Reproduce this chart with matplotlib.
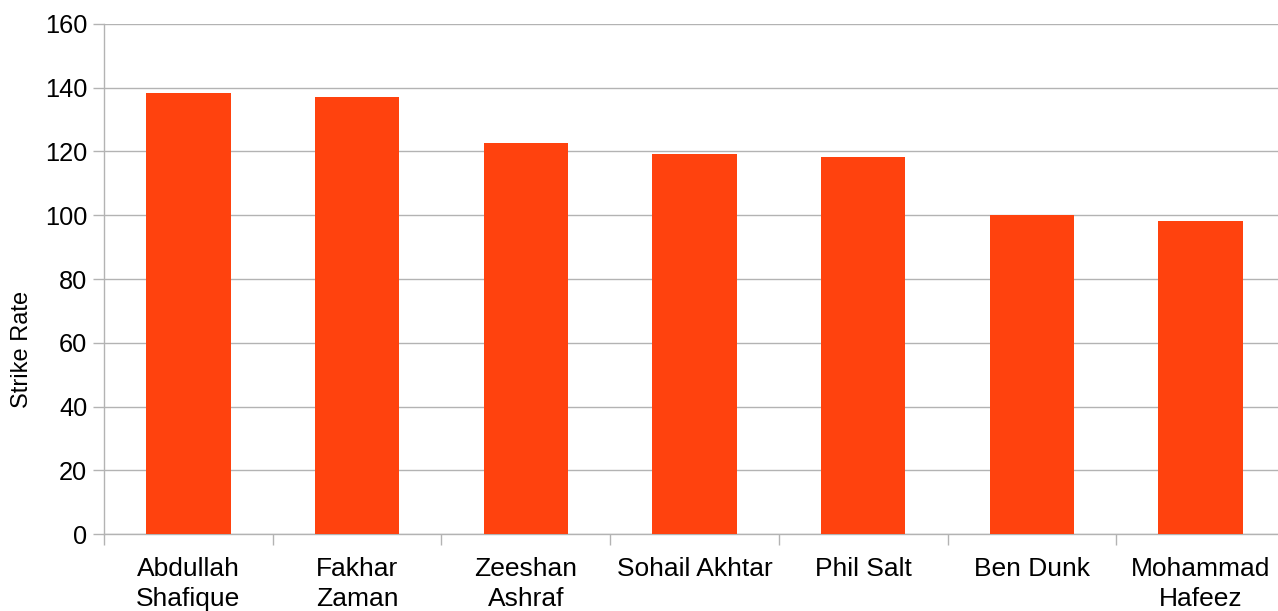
import matplotlib
matplotlib.use('Agg')
import matplotlib.pyplot as plt
import numpy as np

players = ['Abdullah\nShafique', 'Fakhar\nZaman', 'Zeeshan\nAshraf', 'Sohail Akhtar',
           'Phil Salt', 'Ben Dunk', 'Mohammad\nHafeez']
strike_rate = [138.2, 137.0, 122.6, 119.2, 118.2, 100.0, 98.2]

plt.rcParams['font.family'] = ['Liberation Sans', 'DejaVu Sans']

fig = plt.figure(figsize=(12.78, 6.11), dpi=100)
# plot area runs a little past the right edge of the image, as in the original
ax = fig.add_axes([0.0814, 0.1255, 0.924, 0.8357])

x = np.arange(len(players))
ax.bar(x, strike_rate, width=0.5, color='#ff420e', zorder=3)

ax.set_xlim(-0.5, len(players) - 0.5)
ax.set_ylim(0, 160)
ax.set_yticks(range(0, 161, 20))
ax.yaxis.grid(True, color='#b3b3b3', linewidth=1, zorder=0)

# labels in the middle, tick marks at the category edges
ax.set_xticks(x)
ax.set_xticklabels(players, fontsize=19, linespacing=1.35)
ax.set_xticks(np.arange(-0.5, len(players) - 0.5, 1), minor=True)
ax.tick_params(axis='x', which='major', length=0, pad=16)
ax.tick_params(axis='x', which='minor', length=8, color='#b3b3b3', width=1)
ax.tick_params(axis='y', length=8, color='#b3b3b3', width=1, labelsize=18.3, pad=4)

for side in ['top', 'right']:
    ax.spines[side].set_visible(False)
for side in ['left', 'bottom']:
    ax.spines[side].set_color('#b3b3b3')
    ax.spines[side].set_linewidth(1)

fig.text(22 / 1278, 1 - 349 / 611, 'Strike Rate', rotation=90, fontsize=17,
         ha='center', va='center')

fig.savefig('out.png', dpi=100)
